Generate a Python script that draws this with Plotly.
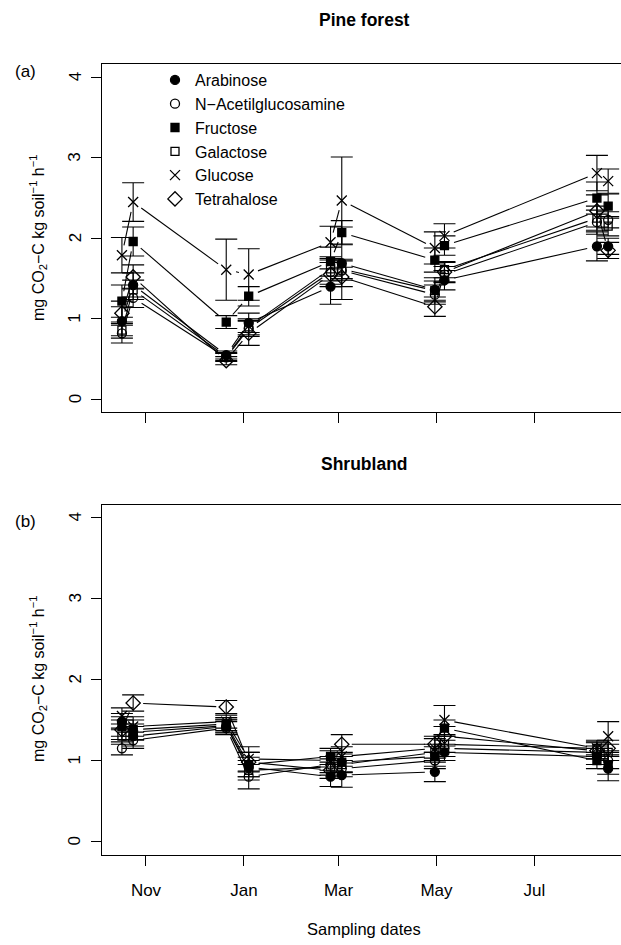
import plotly.graph_objects as go
import pandas as pd
import math

# ---------------- data ----------------
dates = ["2010-10-17", "2010-10-24", "2010-12-21", "2011-01-04", "2011-02-24",
         "2011-03-03", "2011-04-30", "2011-05-06", "2011-08-09", "2011-08-16"]

sugars = ["Arabinose", "N\u2212Acetilglucosamine", "Fructose", "Galactose", "Glucose", "Tetrahalose"]
symbols = ["circle", "circle-open", "square", "square-open", "x-thin-open", "diamond-open"]

# Pine forest means
pine_arabinose   = [0.97, 1.42, 0.55, 0.95, 1.40, 1.69, 1.36, 1.48, 1.90, 1.90]
pine_nacetil     = [0.82, 1.26, 0.52, 0.88, 1.58, 1.60, 1.30, 1.55, 2.20, 2.23]
pine_fructose    = [1.22, 1.96, 0.96, 1.28, 1.71, 2.07, 1.73, 1.91, 2.50, 2.40]
pine_galactose   = [0.86, 1.36, 0.53, 0.90, 1.62, 1.62, 1.35, 1.61, 2.25, 2.15]
pine_glucose     = [1.79, 2.45, 1.61, 1.55, 1.95, 2.47, 1.88, 2.03, 2.81, 2.71]
pine_tetrahalose = [1.07, 1.52, 0.48, 0.82, 1.55, 1.52, 1.15, 1.58, 2.34, 1.85]
# Pine forest standard errors
pine_arabinose_se   = [0.18, 0.15, 0.05, 0.12, 0.22, 0.45, 0.15, 0.12, 0.18, 0.10]
pine_nacetil_se     = [0.12, 0.12, 0.05, 0.10, 0.15, 0.12, 0.12, 0.10, 0.15, 0.10]
pine_fructose_se    = [0.20, 0.18, 0.08, 0.12, 0.18, 0.15, 0.15, 0.12, 0.20, 0.15]
pine_galactose_se   = [0.10, 0.12, 0.05, 0.10, 0.15, 0.12, 0.12, 0.10, 0.15, 0.12]
pine_glucose_se     = [0.22, 0.24, 0.38, 0.32, 0.20, 0.54, 0.20, 0.15, 0.22, 0.15]
pine_tetrahalose_se = [0.15, 0.15, 0.05, 0.15, 0.15, 0.12, 0.12, 0.12, 0.20, 0.10]

# Shrubland means
shrub_arabinose   = [1.48, 1.30, 1.42, 0.92, 0.80, 0.82, 0.86, 1.10, 1.05, 0.90]
shrub_nacetil     = [1.15, 1.25, 1.40, 0.80, 0.95, 0.90, 1.00, 1.15, 1.10, 1.00]
shrub_fructose    = [1.42, 1.38, 1.45, 0.95, 1.05, 0.98, 1.05, 1.40, 1.00, 0.95]
shrub_galactose   = [1.30, 1.35, 1.43, 0.88, 0.92, 0.95, 1.10, 1.20, 1.15, 1.10]
shrub_glucose     = [1.55, 1.42, 1.48, 1.02, 1.00, 1.05, 1.15, 1.50, 1.15, 1.30]
shrub_tetrahalose = [1.38, 1.71, 1.66, 0.98, 0.88, 1.20, 1.20, 1.30, 1.12, 1.15]
# Shrubland standard errors
shrub_arabinose_se   = [0.10, 0.12, 0.08, 0.12, 0.12, 0.15, 0.12, 0.10, 0.10, 0.15]
shrub_nacetil_se     = [0.08, 0.10, 0.08, 0.15, 0.10, 0.10, 0.10, 0.10, 0.08, 0.10]
shrub_fructose_se    = [0.12, 0.12, 0.08, 0.15, 0.10, 0.12, 0.12, 0.10, 0.10, 0.12]
shrub_galactose_se   = [0.10, 0.10, 0.08, 0.12, 0.10, 0.10, 0.10, 0.10, 0.08, 0.10]
shrub_glucose_se     = [0.10, 0.12, 0.08, 0.15, 0.12, 0.12, 0.12, 0.18, 0.10, 0.18]
shrub_tetrahalose_se = [0.12, 0.10, 0.08, 0.12, 0.10, 0.12, 0.10, 0.12, 0.10, 0.10]

y_ticks = [0, 1, 2, 3, 4]
y_ticktext = ["0", "1", "2", "3", "4"]
x_tickvals = ["2010-11-01", "2011-01-01", "2011-03-01", "2011-05-01", "2011-07-01"]
x_ticktext = ["Nov", "Jan", "Mar", "May", "Jul"]

pine = [pine_arabinose, pine_nacetil, pine_fructose, pine_galactose, pine_glucose, pine_tetrahalose]
pine_se = [pine_arabinose_se, pine_nacetil_se, pine_fructose_se, pine_galactose_se,
           pine_glucose_se, pine_tetrahalose_se]
shrub = [shrub_arabinose, shrub_nacetil, shrub_fructose, shrub_galactose, shrub_glucose, shrub_tetrahalose]
shrub_se = [shrub_arabinose_se, shrub_nacetil_se, shrub_fructose_se, shrub_galactose_se,
            shrub_glucose_se, shrub_tetrahalose_se]

# ---------------- geometry ----------------
W, H = 621, 945
FONT = "Liberation Sans, Arial, Helvetica, sans-serif"
sizes = {"circle": 9, "circle-open": 9, "square": 8, "square-open": 8,
         "x-thin-open": 10, "diamond-open": 11}

x_left = 101.7
dom_x = [x_left / W, 1.0]
xrange = ["2010-10-04 09:36", "2011-08-24 00:00"]
yrange = [-0.16, 4.16]
panels_px = [(64.4, 412.2), (504.5, 854.5)]   # (top, bottom) in px
ylabel_x = 75.0 / W                              # centre of the rotated y tick labels

def ydom(top_px, bot_px):
    return [1 - bot_px / H, 1 - top_px / H]

t0 = pd.Timestamp(xrange[0])
t1 = pd.Timestamp(xrange[1])
x_px_per_sec = (W - x_left) / (t1 - t0).total_seconds()
GAP = 10.0  # px gap between line ends and point centres (R type="b")

def gapped_segments(xd, yv, y_px_per_unit):
    """Shorten the connecting segments near each point, like R's type='b'."""
    ts = [pd.Timestamp(d) for d in xd]
    xs, ys = [], []
    for i in range(len(ts) - 1):
        dx = (ts[i + 1] - ts[i]).total_seconds() * x_px_per_sec
        dy = (yv[i + 1] - yv[i]) * y_px_per_unit
        L = math.hypot(dx, dy)
        if L <= 2 * GAP:
            continue
        for f in (GAP / L, 1 - GAP / L):
            xs.append(ts[i] + (ts[i + 1] - ts[i]) * f)
            ys.append(yv[i] + (yv[i + 1] - yv[i]) * f)
        xs.append(None)
        ys.append(None)
    return xs, ys

fig = go.Figure()

for panel, (vals, ses) in enumerate([(pine, pine_se), (shrub, shrub_se)]):
    xa = "x" if panel == 0 else "x2"
    ya = "y" if panel == 0 else "y2"
    top, bot = panels_px[panel]
    y_ppu = (bot - top) / (yrange[1] - yrange[0])
    for name, sym, v, e in zip(sugars, symbols, vals, ses):
        sx, sy = gapped_segments(dates, v, y_ppu)
        fig.add_trace(go.Scatter(
            x=sx, y=sy, mode="lines", xaxis=xa, yaxis=ya, showlegend=False,
            name=name, line=dict(color="black", width=1.1), hoverinfo="skip"))
        fig.add_trace(go.Scatter(
            x=dates, y=v, mode="markers", xaxis=xa, yaxis=ya,
            showlegend=False, name=name,
            marker=dict(symbol=sym, size=sizes[sym], color="black",
                        line=dict(color="black", width=1.3)),
            error_y=dict(type="data", array=e, visible=True, color="black",
                         thickness=1.1, width=11)))

# legend-only entries (symbols only)
for name, sym in zip(sugars, symbols):
    fig.add_trace(go.Scatter(
        x=[None], y=[None], mode="markers", name=name, xaxis="x", yaxis="y",
        marker=dict(symbol=sym, size=sizes[sym], color="black",
                    line=dict(color="black", width=1.3))))

common_x = dict(type="date", range=xrange, domain=dom_x, tickvals=x_tickvals,
                ticktext=x_ticktext, ticks="outside", ticklen=10, tickwidth=1.1,
                tickcolor="black", showline=True, mirror=True, linecolor="black",
                linewidth=1.3, showgrid=False, zeroline=False,
                tickfont=dict(family=FONT, size=17, color="black"))
common_y = dict(range=yrange, tickvals=y_ticks, ticks="outside", ticklen=10,
                tickwidth=1.1, tickcolor="black", showline=True, linecolor="black",
                linewidth=1.3, showgrid=False, zeroline=False, showticklabels=False)

fig.update_layout(
    width=W, height=H, margin=dict(l=0, r=0, t=0, b=0),
    paper_bgcolor="white", plot_bgcolor="white",
    font=dict(family=FONT, color="black"),
    xaxis=dict(**common_x, anchor="y", showticklabels=False),
    yaxis=dict(**common_y, anchor="x", domain=ydom(*panels_px[0])),
    xaxis2=dict(**common_x, anchor="y2", ticklabelstandoff=10),
    yaxis2=dict(**common_y, anchor="x2", domain=ydom(*panels_px[1])),
    legend=dict(x=155 / W, y=1 - 63 / H, xanchor="left", yanchor="top",
                bgcolor="rgba(0,0,0,0)", borderwidth=0,
                font=dict(family=FONT, size=16, color="black"),
                tracegroupgap=0, itemwidth=30),
    showlegend=True,
)

# rotated y tick labels (R style, parallel to the axis)
for yref in ("y", "y2"):
    for tv, tt in zip(y_ticks, y_ticktext):
        fig.add_annotation(text=tt, x=ylabel_x, y=tv, xref="paper", yref=yref,
                           showarrow=False, textangle=-90, xanchor="center",
                           yanchor="middle",
                           font=dict(family=FONT, size=17, color="black"))

ytitle = "mg CO<sub>2</sub>\u2212C kg soil<sup>\u22121</sup> h<sup>\u22121</sup>"
ann = [
    dict(text="<b>Pine forest</b>", x=364 / W, y=1 - 20 / H, size=17.5),
    dict(text="<b>Shrubland</b>", x=364 / W, y=1 - 464 / H, size=17.5),
    dict(text="(a)", x=25 / W, y=1 - 71 / H, size=17),
    dict(text="(b)", x=25 / W, y=1 - 521 / H, size=17),
    dict(text="Sampling dates", x=364 / W, y=1 - 929 / H, size=16.5),
]
for a in ann:
    fig.add_annotation(text=a["text"], x=a["x"], y=a["y"], xref="paper", yref="paper",
                       showarrow=False, xanchor="center", yanchor="middle",
                       font=dict(family=FONT, size=a["size"], color="black"))
for yc in (238, 679):
    fig.add_annotation(text=ytitle, x=38 / W, y=1 - yc / H, xref="paper", yref="paper",
                       showarrow=False, textangle=-90, xanchor="center", yanchor="middle",
                       font=dict(family=FONT, size=16, color="black"))

fig.write_html("out.html")
